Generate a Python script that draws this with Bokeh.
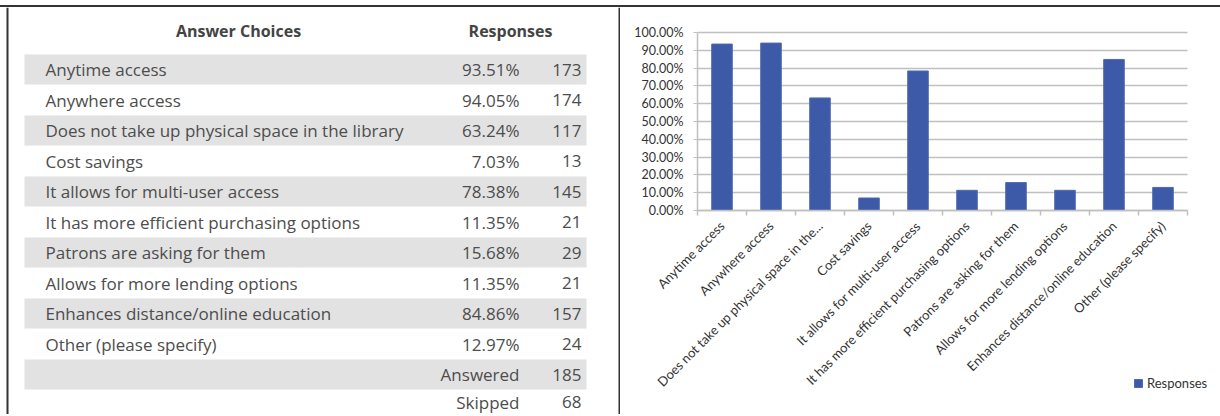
import math
from bokeh.plotting import figure
from bokeh.models import (ColumnDataSource, Range1d, FixedTicker, NumeralTickFormatter,
                          Legend, LegendItem, Spacer)
from bokeh.layouts import column, row
from bokeh.core.properties import value
from bokeh.embed import file_html
from bokeh.resources import INLINE

# ---------------- data ----------------
answer_choices = [
    "Anytime access",
    "Anywhere access",
    "Does not take up physical space in the library",
    "Cost savings",
    "It allows for multi-user access",
    "It has more efficient purchasing options",
    "Patrons are asking for them",
    "Allows for more lending options",
    "Enhances distance/online education",
    "Other (please specify)",
]
chart_labels = [
    "Anytime access",
    "Anywhere access",
    "Does not take up physical space in the...",
    "Cost savings",
    "It allows for multi-user access",
    "It has more efficient purchasing options",
    "Patrons are asking for them",
    "Allows for more lending options",
    "Enhances distance/online education",
    "Other (please specify)",
]
percentages = [93.51, 94.05, 63.24, 7.03, 78.38, 11.35, 15.68, 11.35, 84.86, 12.97]
counts = [173, 174, 117, 13, 145, 21, 29, 21, 157, 24]
answered = 185
skipped = 68
y_ticks = [0.0, 0.1, 0.2, 0.3, 0.4, 0.5, 0.6, 0.7, 0.8, 0.9, 1.0]
header_left = "Answer Choices"
header_right = "Responses"
legend_label = "Responses"

# ---------------- styles ----------------
TXT = "#4d4d4d"
GRAY_ROW = "#e2e2e2"
BORDER = "#333333"
BAR = "#3d5aa9"
GRID = "#c0c0c0"
TFONT = value("Open Sans")
CFONT = "Lato"


def no_align(p):
    try:
        p.frame_align = False
    except Exception:
        pass


PANEL_H = 407

# ---------------- table ----------------
TW = 620
tab = figure(frame_width=TW, frame_height=PANEL_H, toolbar_location=None, output_backend="svg",
             x_axis_location=None, y_axis_location=None, min_border=0,
             x_range=Range1d(0, TW), y_range=Range1d(PANEL_H, 0),
             outline_line_color=None, background_fill_color="white",
             border_fill_color="white")
tab.grid.grid_line_color = None
no_align(tab)

row0, pitch = 62.0, 30.5
n = len(answer_choices)
row_y = [row0 + i * pitch for i in range(n + 2)]
row_y[-1] -= 3.0

band_y = [row_y[i] for i in range(n + 1) if i % 2 == 0]
tab.quad(left=24, right=586, top=[y - 15 for y in band_y], bottom=[y + 15 for y in band_y],
         fill_color=GRAY_ROW, line_color=None)

tab.segment(x0=[7, 619], y0=[0, 0], x1=[7, 619], y1=[PANEL_H, PANEL_H],
            line_color=BORDER, line_width=2)

FS = "17px"
tab.text(x=[238, 510], y=[23, 23], text=[header_left, header_right],
         text_font=TFONT, text_font_size="16px", text_font_style="bold",
         text_color="#444444", text_align="center", text_baseline="middle")

src = ColumnDataSource(dict(
    y=row_y[:n],
    label=answer_choices,
    pct=[f"{v:.2f}%" for v in percentages],
    cnt=[str(c) for c in counts],
))
tab.text(x=45, y="y", text="label", source=src, text_font=TFONT, text_font_size=FS,
         text_color=TXT, text_align="left", text_baseline="middle")
tab.text(x=519, y="y", text="pct", source=src, text_font=TFONT, text_font_size=FS,
         text_color=TXT, text_align="right", text_baseline="middle")
tab.text(x=581, y="y", text="cnt", source=src, text_font=TFONT, text_font_size=FS,
         text_color=TXT, text_align="right", text_baseline="middle")

tab.text(x=[519, 519], y=row_y[n:], text=["Answered", "Skipped"], text_font=TFONT,
         text_font_size=FS, text_color=TXT, text_align="right", text_baseline="middle")
tab.text(x=[581, 581], y=row_y[n:], text=[str(answered), str(skipped)], text_font=TFONT,
         text_font_size=FS, text_color=TXT, text_align="right", text_baseline="middle")

# ---------------- chart ----------------
# the frame fills the whole panel; axes sit at fixed data locations inside it
CW = 600
PX_PER_UNIT = 178.0      # pixels per 100%
CAT_W = 49.0             # pixels per category
X0_PX = 77               # pixel position of the category axis start
Y0_PX = 203              # pixel position of 0% from the top
y_start = -(PANEL_H - Y0_PX) / PX_PER_UNIT
y_end = Y0_PX / PX_PER_UNIT
x_start = -X0_PX / CAT_W
x_end = (CW - X0_PX) / CAT_W

x_centers = [i + 0.5 for i in range(n)]
csrc = ColumnDataSource(dict(x=x_centers, top=[v / 100.0 for v in percentages]))

ch = figure(frame_width=CW, frame_height=PANEL_H, toolbar_location=None, output_backend="svg",
            x_range=Range1d(x_start, x_end), y_range=Range1d(y_start, y_end),
            min_border=0, outline_line_color=None,
            background_fill_color="white", border_fill_color="white")
no_align(ch)

ch.xgrid.grid_line_color = None
grid_ok = True
try:
    ch.ygrid.cross_bounds = (0, n)
except Exception:
    grid_ok = False
if grid_ok:
    ch.ygrid.ticker = FixedTicker(ticks=y_ticks)
    ch.ygrid.grid_line_color = GRID
    ch.ygrid.grid_line_width = 1.5
else:
    ch.ygrid.grid_line_color = None
    ch.segment(x0=0, x1=n, y0=y_ticks, y1=y_ticks, line_color=GRID, line_width=1.5)

bars = ch.vbar(x="x", top="top", width=0.42, bottom=0, source=csrc,
               fill_color=BAR, line_color="#4f6ab2", line_width=1)

yax = ch.yaxis[0]
yax.fixed_location = 0
yax.ticker = FixedTicker(ticks=y_ticks)
yax.formatter = NumeralTickFormatter(format="0.00%")
yax.bounds = (0, 1)
yax.axis_line_color = GRID
yax.axis_line_width = 1.5
yax.major_tick_line_color = GRID
yax.major_tick_out = 4
yax.major_tick_in = 0
yax.minor_tick_line_color = None
yax.major_label_text_font = CFONT
yax.major_label_text_font_size = "12.5px"
yax.major_label_text_color = "#333333"
yax.major_label_standoff = 10

xax = ch.xaxis[0]
xax.fixed_location = 0
xax.bounds = (0, n)
xax.ticker = FixedTicker(ticks=x_centers, minor_ticks=list(range(n + 1)))
xax.major_label_overrides = {x: lab for x, lab in zip(x_centers, chart_labels)}
xax.major_label_orientation = math.pi / 4
xax.axis_line_color = GRID
xax.axis_line_width = 1.5
xax.major_tick_line_color = None
xax.major_tick_out = 0
xax.major_tick_in = 0
xax.minor_tick_line_color = GRID
xax.minor_tick_line_width = 1.5
xax.minor_tick_out = 5
xax.minor_tick_in = 0
xax.major_label_text_font = CFONT
xax.major_label_text_font_size = "13px"
xax.major_label_text_color = "#333333"
xax.major_label_standoff = 8

legend = Legend(items=[LegendItem(label=legend_label, renderers=[bars])],
                location=(X0_PX + 436, 23), orientation="horizontal",
                padding=0, margin=0, spacing=0,
                glyph_width=10, glyph_height=10, label_height=12, label_standoff=4,
                label_text_font=CFONT, label_text_font_size="13px",
                label_text_color="#333333", label_text_baseline="middle",
                background_fill_alpha=0, border_line_color=None)
ch.add_layout(legend, "center")

body = row(tab, ch, styles={"border-top": "2px solid #333333"})
layout = column(Spacer(height=5, width=1220), body)
open("out.html", "w").write(file_html(layout, INLINE))
